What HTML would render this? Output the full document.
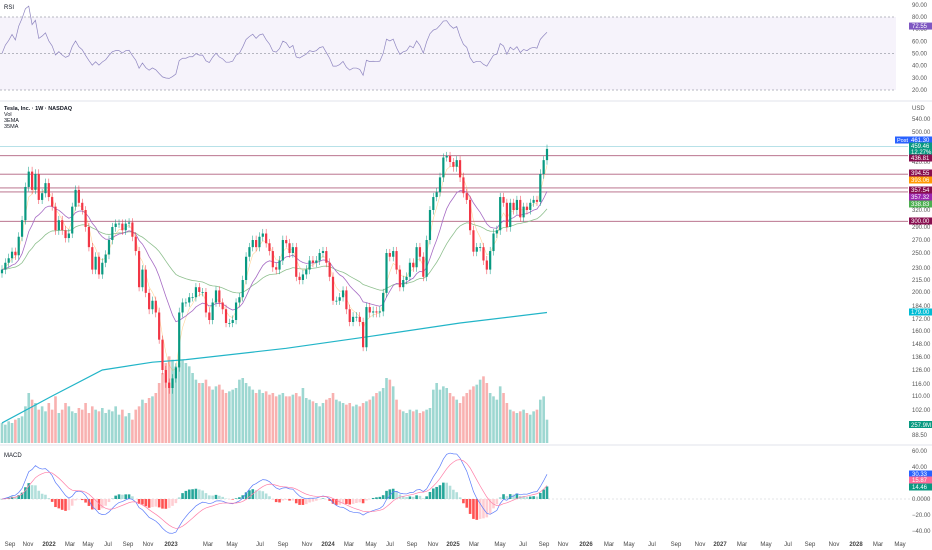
<!DOCTYPE html>
<html><head><meta charset="utf-8"><style>
html,body{margin:0;padding:0;background:#fff;}
svg{display:block;font-family:"Liberation Sans",sans-serif;}
</style></head><body>
<svg id="chart" width="932" height="550" viewBox="0 0 932 550" xmlns="http://www.w3.org/2000/svg">
<rect x="0" y="0" width="932" height="550" fill="#ffffff"/>
<g id="rsi"></g>
<g id="main"></g>
<g id="macd"></g>
<g id="axis"></g>
</svg>
<script>
// ===== DATA =====
const closes = [228,237,243,252,247,275,302,368,400,362,395,341,355,376,347,327,285,302,285,273,280,327,362,335,320,290,259,228,245,222,237,248,270,290,296,296,285,296,298,275,253,206,228,199,181,190,178,152,126,117,114,120,128,178,188,
188,194,194,206,200,200,178,171,188,202,188,181,168,168,171,188,194,215,245,259,270,259,275,280,265,253,231,228,240,270,265,250,259,219,215,222,228,240,237,240,250,253,237,219,190,190,194,202,181,169,174,174,169,
145,183,178,179,178,179,199,250,245,253,228,206,215,219,237,231,259,245,219,270,320,347,357,388,432,436,420,410,425,388,355,341,285,252,259,259,240,228,253,280,285,347,335,290,335,320,341,307,327,320,335,341,337,395,425,455];
const volumes = [600,550,650,600,700,750,800,1100,
1500,1300,1200,1000,1100,950,1200,1000,1400,
900,1000,1200,1100,950,900,1050,1000,1200,900,1100,1000,950,1050,
900,1000,950,1100,850,1000,800,900,700,1000,1100,1300,1200,1350,
1400,1500,1800,2100,2400,2600,2500,2300,2400,2500,
2400,2300,2100,1900,1800,1800,1900,1700,1600,1700,1750,1600,1500,1550,1600,1650,
1900,1950,1800,1700,1600,1500,1600,1500,1550,1450,1500,1400,1450,1500,1400,
1400,1450,1500,1400,1650,1350,1300,1250,1200,1100,1200,1300,1350,1500,1300,
1250,1200,1150,1200,1100,1150,1100,1200,1250,1300,1400,1500,1550,1650,1950,
1900,1700,1300,1000,950,900,1000,950,1000,900,950,1000,1050,1600,1800,
1600,1700,1650,1500,1400,1300,1200,1400,1500,1600,1700,1750,1900,2000,1800,
1500,1400,1300,1700,1500,1200,1000,950,900,950,1000,900,850,950,1000,1300,1400,700];
const ma200Index = [0,15,30,45,55,85,110,137,163];
const ma200Values = [95,110,126,132,134,144,155,168,178];
const priceTicks = [540,500,420,320,290,270,250,230,215,200,184,172,160,148,136,126,116,110,102,88.5];
const rsiTicks = [90,80,70,60,50,40,30,20];
const macdTicks = [60,40,0,-20,-40];
const timeLabels = ["Sep","Nov","2022","Mar","May","Jul","Sep","Nov","2023","Mar","May","Jul","Sep","Nov","2024","Mar","May","Jul","Sep","Nov","2025","Mar","May","Jul","Sep","Nov","2026","Mar","May","Jul","Sep","Nov","2027","Mar","May","Jul","Sep","Nov","2028","Mar","May"];
const levelLines = [436.81,394.55,366,357.54,300];
const priceBadges = [["461.30","#2962ff",140],["459.46","#089981",146],["12.27%","#089981",152],["436.81","#880e4f",158],["394.55","#880e4f",173],["393.06","#ff9800",180],["357.54","#880e4f",190],["357.32","#9c27b0",197],["338.83","#4caf50",204],["300.00","#880e4f",221],["179.00","#00bcd4",312]];

// ===== AXES =====
const tickY = [119,132,162,210,227,240,253,268,280,292,306,319,331,344,357,370,384,396,410,435];
const timeX = [10,28,49,70,88,108,128,148,171,208,232,260,283,307,328,349,371,390,412,433,453,474,500,523,544,563,586,609,629,652,676,700,720,742,766,788,810,834,856,878,900];
const NS="http://www.w3.org/2000/svg";
function yP(p){
  for(let i=0;i<priceTicks.length-1;i++){
    const a=priceTicks[i],b=priceTicks[i+1];
    if(p<=a && p>=b) return tickY[i]+(a-p)/(a-b)*(tickY[i+1]-tickY[i]);
  }
  if(p>priceTicks[0]) return tickY[0]-(p-priceTicks[0])/(priceTicks[0]-priceTicks[1])*(tickY[1]-tickY[0]);
  const n=priceTicks.length;
  return tickY[n-1]+(priceTicks[n-1]-p)/(priceTicks[n-2]-priceTicks[n-1])*(tickY[n-1]-tickY[n-2]);
}
const N=closes.length;
function xI(i){return 2+i*(545/(N-1));}
function yR(v){return 17+(80-v)*1.217;}
function yM(v){return 499-v*0.8;}
function yV(v){return 443-v/30;}
function el(tag,attrs,parent){const e=document.createElementNS(NS,tag);for(const k in attrs)e.setAttribute(k,attrs[k]);parent.appendChild(e);return e;}
function txt(s,attrs,parent){const e=el('text',attrs,parent);e.textContent=s;return e;}
function ema(arr,n){const k=2/(n+1);const out=[];let v=arr[0];for(let i=0;i<arr.length;i++){v=i===0?arr[0]:arr[i]*k+v*(1-k);out.push(v);}return out;}
function path(vals,xf,yf){return vals.map((v,i)=>(i?'L':'M')+xf(i).toFixed(2)+','+yf(v).toFixed(2)).join(' ');}

const svg=document.getElementById('chart');
const gR=document.getElementById('rsi'), gM=document.getElementById('main'), gD=document.getElementById('macd'), gA=document.getElementById('axis');

let s;
s=el('line',{x1:0,y1:101,x2:932,y2:101,stroke:'#e0e3eb','stroke-width':1},svg);


s=el('line',{x1:0,y1:445,x2:932,y2:445,stroke:'#e0e3eb','stroke-width':1},svg);



// ===== RSI =====
let r=el('rect',{x:0,y:yR(80),width:896,height:yR(20)-yR(80),fill:'rgba(126,87,194,0.07)'},gR);


[80,50,20].forEach(v=>{
  const l=el('line',{x1:0,x2:896,y1:yR(v),y2:yR(v),stroke:'#a0a3ad','stroke-width':0.7,'stroke-dasharray':'2,2'},gR);
  
  
});
const rsiVals=[];{let ag=0,al=0;const P=16;for(let i=0;i<N;i++){const d=i?closes[i]-closes[i-1]:0;const g=Math.max(d,0),lo=Math.max(-d,0);if(i===0){ag=2;al=2;}ag=(ag*(P-1)+g)/P;al=(al*(P-1)+lo)/P;rsiVals.push(al===0?50:100-100/(1+ag/al));}}
let p=el('path',{d:path(rsiVals,xI,yR),fill:'none',stroke:'#8f86c0','stroke-width':0.7},gR);


let t=txt('RSI',{x:4,y:9,'font-size':6,fill:'#131722'},gR);


rsiTicks.forEach(v=>{
  const tt=txt(v.toFixed(2),{x:912,y:yR(v)+2,'font-size':6,fill:'#555'},gR);
  
  
});
r=el('rect',{x:909,y:yR(72.55)-3.5,width:23,height:7,fill:'#7e57c2'},gR);


t=txt('72.55',{x:912,y:yR(72.55)+2,'font-size':6,fill:'#fff'},gR);



// ===== MAIN =====
let ln=el('line',{x1:0,x2:908,y1:yP(461.3),y2:yP(461.3),stroke:'#9fd7e0','stroke-width':0.8},gM);


levelLines.forEach(v=>{
  const l=el('line',{x1:0,x2:908,y1:yP(v),y2:yP(v),stroke:'#b0607f','stroke-width':0.9},gM);
  
  
});
volumes.forEach((v,i)=>{
  const up=i===0||closes[i]>=closes[i-1];
  const b=el('rect',{x:xI(i)-1.3,y:yV(v),width:2.6,height:443-yV(v),fill:up?'rgba(38,166,154,0.45)':'rgba(239,83,80,0.45)'},gM);
  
  
});
const emaFast=ema(closes,4), emaMid=ema(closes,14), emaSlow=ema(closes,38);
p=el('path',{d:path(emaFast,xI,yP),fill:'none',stroke:'rgba(255,152,0,0.4)','stroke-width':0.6},gM);


p=el('path',{d:path(emaSlow,xI,yP),fill:'none',stroke:'#8fc08f','stroke-width':0.8},gM);


p=el('path',{d:path(emaMid,xI,yP),fill:'none',stroke:'#a66bc4','stroke-width':0.8},gM);


p=el('path',{d:ma200Values.map((v,k)=>(k?'L':'M')+xI(ma200Index[k]).toFixed(2)+','+yP(v).toFixed(2)).join(' '),fill:'none',stroke:'#22b5c8','stroke-width':1.2},gM);


closes.forEach((c,i)=>{
  const o=i?closes[i-1]:c*0.98;
  const up=c>=o;const col=up?'#089981':'#f23645';
  const hi=Math.max(o,c)*1.025, lo=Math.min(o,c)*0.975;
  const w=el('line',{x1:xI(i),x2:xI(i),y1:yP(hi),y2:yP(lo),stroke:col,'stroke-width':0.5},gM);
  
  
  const top=yP(Math.max(o,c)),bot=yP(Math.min(o,c));
  const b=el('rect',{x:xI(i)-1.1,y:top,width:2.2,height:Math.max(bot-top,0.8),fill:col},gM);
  
  
});
[['Tesla, Inc. · 1W · NASDAQ',110,'bold'],['Vol',116,'normal'],['3EMA',122,'normal'],['35MA',128,'normal']].forEach(a=>{
  const tt=txt(a[0],{x:4,y:a[1],'font-size':5.5,fill:'#131722','font-weight':a[2]},gM);
  
  
});
t=txt('USD',{x:912,y:110,'font-size':6,fill:'#555'},gM);


priceTicks.forEach((v,k)=>{
  const tt=txt(v.toFixed(2),{x:912,y:yP(v)+2,'font-size':6,fill:'#555'},gM);
  
  
});
priceBadges.forEach(b=>{
  const rr=el('rect',{x:909,y:b[2]-3.5,width:23,height:7,fill:b[1]},gM);
  
  
  const tt=txt(b[0],{x:911,y:b[2]+2,'font-size':6,fill:'#fff'},gM);
  
  
});
r=el('rect',{x:895,y:136.5,width:14,height:7,fill:'#2962ff'},gM);


t=txt('Post',{x:897,y:142,'font-size':5.5,fill:'#fff'},gM);


r=el('rect',{x:909,y:421,width:23,height:7,fill:'#089981'},gM);


t=txt('257.9M',{x:911,y:427,'font-size':6,fill:'#fff'},gM);



// ===== MACD =====
const e1=ema(closes,9), e2=ema(closes,20);
const macdLine=e1.map((v,i)=>v-e2[i]);
const sig=ema(macdLine,7);
const hist=macdLine.map((v,i)=>v-sig[i]);
let zl=el('line',{x1:0,x2:932,y1:yM(0),y2:yM(0),stroke:'#c8cad0','stroke-width':0.6,'stroke-dasharray':'2,2'},gD);


hist.forEach((h,i)=>{
  const grow=i===0||Math.abs(h)>=Math.abs(hist[i-1]);
  const col=h>=0?(grow?'#26a69a':'#b2dfdb'):(grow?'#ff5252':'#ffcdd2');
  const hh=h*0.9;
  const b=el('rect',{x:xI(i)-1.3,y:h>=0?yM(0)-hh:yM(0),width:2.6,height:Math.max(Math.abs(hh),0.3),fill:col},gD);
  
  
});
p=el('path',{d:path(macdLine,xI,yM),fill:'none',stroke:'#5b7cfa','stroke-width':0.7},gD);


p=el('path',{d:path(sig,xI,yM),fill:'none',stroke:'#ff7fa8','stroke-width':0.7},gD);


t=txt('MACD',{x:4,y:457,'font-size':6,fill:'#131722'},gD);


macdTicks.forEach(v=>{
  const tt=txt(v===0?'0.0000':v.toFixed(2).replace('-','−'),{x:912,y:yM(v)+2,'font-size':6,fill:'#555'},gD);
  
  
});
[['30.33','#2962ff',474],['15.87','#ff6d9a',480],['14.46','#089981',487]].forEach(b=>{
  const rr=el('rect',{x:909,y:b[2]-3.5,width:23,height:7,fill:b[1]},gD);
  
  
  const tt=txt(b[0],{x:912,y:b[2]+2,'font-size':6,fill:'#fff'},gD);
  
  
});

// ===== TIME AXIS =====
timeLabels.forEach((s2,k)=>{
  const yr=/^\d{4}$/.test(s2);
  const tt=txt(s2,{x:timeX[k],y:546,'font-size':6,fill:'#444','text-anchor':'middle','font-weight':yr?'bold':'normal'},gA);
  
  
});
</script>
</body></html>
